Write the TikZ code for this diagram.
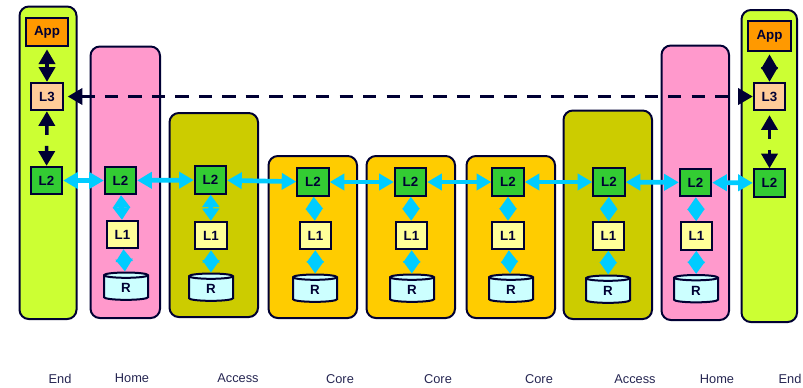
\documentclass[tikz,border=0pt]{standalone}
\usepackage{fontspec}
\setmainfont{Liberation Sans}
\usetikzlibrary{arrows.meta,shapes.geometric}
\begin{document}
\begin{tikzpicture}[x=0.75pt,y=-0.75pt,
    panel/.style={draw=routerink, line width=1.5pt, rounded corners=7pt},
    levelbox/.style={rectangle, draw=routerink, line width=1.5pt, text=routerink, inner sep=0pt,
        font=\fontsize{10}{10}\selectfont\bfseries, minimum width=23.5pt, minimum height=20.5pt},
    ramdisk/.style={cylinder, shape border rotate=90, aspect=0.55, draw=routerink, line width=1.5pt,
        fill=ramblue, text=routerink, inner sep=0pt, font=\fontsize{10}{10}\selectfont\bfseries,
        minimum width=33pt, minimum height=20.5pt},
    linkwide/.style={{Triangle[length=11pt,width=12pt]}-{Triangle[length=11pt,width=12pt]},
        draw=linkblue, line width=3.5pt},
    linkshort/.style={{Triangle[length=9.3pt,width=12.5pt]}-{Triangle[length=9.3pt,width=12.5pt]},
        draw=linkblue, line width=3.5pt},
    linkdark/.style={{Triangle[length=11pt,width=12pt]}-{Triangle[length=11pt,width=12pt]},
        draw=routerink, line width=2.6pt},
    caption/.style={text=routerink!85, font=\fontsize{9.6}{10}\selectfont}]
    % Define colors
    \definecolor{routerink}{RGB}{0,0,51}
    \definecolor{linkblue}{RGB}{0,204,255}
    \definecolor{endgreen}{RGB}{204,255,51}
    \definecolor{homepink}{RGB}{255,153,204}
    \definecolor{accessolive}{RGB}{204,204,0}
    \definecolor{coreyellow}{RGB}{255,204,0}
    \definecolor{apporange}{RGB}{255,153,0}
    \definecolor{lthreepeach}{RGB}{255,204,153}
    \definecolor{ltwogreen}{RGB}{51,204,51}
    \definecolor{loneyellow}{RGB}{255,255,153}
    \definecolor{ramblue}{RGB}{204,255,255}

    \useasboundingbox (0,0) rectangle (803,387);

    % Panels
    \foreach \xa/\ya/\xb/\yb/\col in {19.5/6.5/76.5/319/endgreen, 90.5/46.5/160/318/homepink,
        169.5/113/258/317/accessolive, 268.5/156/357/318/coreyellow, 366.5/156/455/318/coreyellow,
        466.5/156/555/318/coreyellow, 563.5/110.5/652/319/accessolive, 661.5/45.5/729/320/homepink,
        741.5/10/797/322/endgreen} {
        \draw[panel, fill=\col] (\xa,\ya) rectangle (\xb,\yb);
    }

    % End hosts
    \node[levelbox, fill=apporange, minimum width=32pt, minimum height=21.5pt] (appl) at (47,32) {App};
    \node[levelbox, fill=lthreepeach] (lthreel) at (47,96.5) {L3};
    \node[levelbox, fill=ltwogreen] (ltwol) at (46.5,180.5) {L2};
    \node[levelbox, fill=apporange, minimum width=32pt, minimum height=23pt] (appr) at (769.5,36) {App};
    \node[levelbox, fill=lthreepeach] (lthreer) at (769.5,96.5) {L3};
    \node[levelbox, fill=ltwogreen] (ltwor) at (769.5,183) {L2};

    % Routers
    \foreach \n/\xa/\xb/\xc/\ya/\yb/\yc in {b/120.5/122.5/126/180.5/234.5/288,
        c/210.5/211/211/180/235.5/289, d/313/315.5/315/182/235.5/290, e/410.5/411.5/412/182/235.5/290,
        f/508/508/511/182/235.5/290, g/609/608.5/608/182/236/291, h/695.5/696.5/696/182.5/236/290.5} {
        \node[levelbox, fill=ltwogreen] (ltwo\n) at (\xa,\ya) {L2};
        \node[levelbox, fill=loneyellow] (lone\n) at (\xb,\yb) {L1};
        \node[ramdisk] (ram\n) at (\xc,\yc) {R};
        \draw[linkshort] (ltwo\n) -- (lone\n);
        \draw[linkshort] (lone\n) -- (ram\n);
    }

    % Links between the L2 boxes
    \foreach \p/\q in {l/b, b/c, c/d, d/e, e/f, f/g, g/h, h/r} {
        \draw[linkwide] (ltwo\p) -- (ltwo\q);
    }

    % Host stacks
    \draw[linkdark, shorten <=1.5pt] (appl) -- (lthreel);
    \draw[linkdark, dash pattern=on 7.5pt off 8.25pt] (lthreel) -- (ltwol);
    \draw[linkdark, shorten <=1.5pt] (appr) -- (lthreer);
    \draw[linkdark, shorten <=3pt, dash pattern=on 7.5pt off 8.25pt] (lthreer) -- (ltwor);

    % Dashed path between the hosts
    \draw[linkdark, shorten <=3pt, dash pattern=on 10pt off 7.6pt] (lthreel) -- (lthreer);

    % Labels
    \foreach \x/\y/\t [count=\i] in {60/379/End, 132/378/Home, 238/378/Access, 340/379/Core, 438/379/Core,
        539/379/Core, 635/379/Access, 717/379/Home, 790/379/End} {
        \node[caption] (name\i) at (\x,\y) {\t};
    }
\end{tikzpicture}
\end{document}
